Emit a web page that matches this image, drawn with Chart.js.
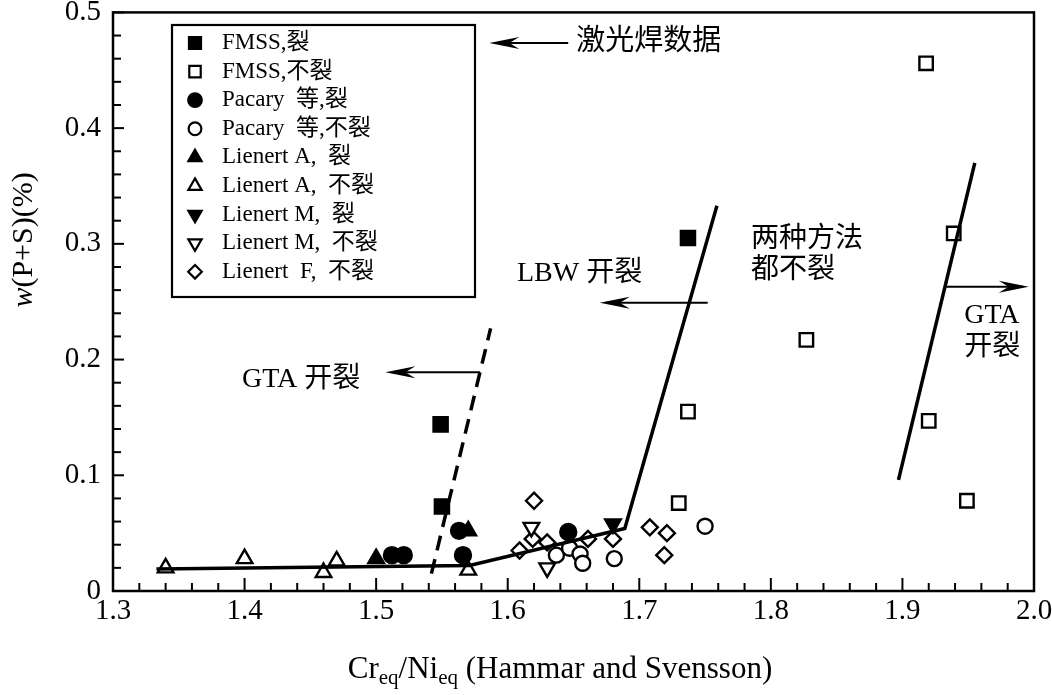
<!DOCTYPE html>
<html lang="zh">
<head>
<meta charset="UTF-8">
<title>w(P+S) vs Creq/Nieq</title>
<script src="https://cdn.jsdelivr.net/npm/chart.js@4.4.1/dist/chart.umd.min.js"></script>
<style>
  body { margin: 0; background: #fff; }
  #wrap { width: 1052px; height: 695px; }
</style>
</head>
<body>
<div id="wrap"><canvas id="myChart" width="1052" height="695"></canvas></div>
<script>
// data
const xTicks = [1.3, 1.4, 1.5, 1.6, 1.7, 1.8, 1.9, 2.0];
const yTicks = [0, 0.1, 0.2, 0.3, 0.4, 0.5];

const fmssCrack = [{x:1.549,y:0.144},{x:1.550,y:0.073},{x:1.737,y:0.305}];
const fmssNoCrack = [{x:1.918,y:0.456},{x:1.939,y:0.309},{x:1.827,y:0.217},{x:1.737,y:0.155},
  {x:1.920,y:0.147},{x:1.730,y:0.076},{x:1.949,y:0.078}];
const pacaryCrack = [{x:1.512,y:0.031},{x:1.521,y:0.031},{x:1.563,y:0.052},{x:1.566,y:0.031},{x:1.646,y:0.051}];
const pacaryNoCrack = [{x:1.637,y:0.031},{x:1.647,y:0.037},{x:1.655,y:0.032},{x:1.657,y:0.024},
  {x:1.681,y:0.028},{x:1.750,y:0.056}];
const lienertACrack = [{x:1.500,y:0.028},{x:1.570,y:0.052}];
const lienertANoCrack = [{x:1.340,y:0.020},{x:1.400,y:0.028},{x:1.460,y:0.016},{x:1.470,y:0.026},{x:1.570,y:0.018}];
const lienertMCrack = [{x:1.680,y:0.058}];
const lienertMNoCrack = [{x:1.618,y:0.055},{x:1.630,y:0.020}];
const lienertFNoCrack = [{x:1.620,y:0.078},{x:1.609,y:0.035},{x:1.619,y:0.045},{x:1.630,y:0.042},
  {x:1.661,y:0.045},{x:1.680,y:0.045},{x:1.708,y:0.055},{x:1.721,y:0.050},{x:1.719,y:0.031}];

// boundary lines
const lbwLine = [{x:1.333,y:0.019},{x:1.571,y:0.022},{x:1.689,y:0.054},{x:1.759,y:0.333}];
const gtaDashLine = [{x:1.542,y:0.015},{x:1.587,y:0.227}];
const gtaRightLine = [{x:1.897,y:0.096},{x:1.955,y:0.370}];

const serif = '"Liberation Serif", "Times New Roman", serif';
const cjk = '"Liberation Serif", "Noto Sans CJK SC", serif';

function pts(label, data, style, filled, radius, rot) {
  return {
    label: label, data: data,
    pointStyle: style, pointRadius: radius, pointHoverRadius: radius,
    pointRotation: rot || 0,
    borderColor: '#000', backgroundColor: filled ? '#000' : '#fff',
    borderWidth: 2.4, showLine: false
  };
}
function line(data, dash) {
  return {
    label: '', data: data, showLine: true, pointRadius: 0,
    borderColor: '#000', borderWidth: 3.5, borderDash: dash || [],
    fill: false, isLine: true
  };
}

const datasets = [
  line(lbwLine), line(gtaDashLine, [15, 9]), line(gtaRightLine),
  pts('FMSS,裂', fmssCrack, 'rect', true, 10),
  pts('FMSS,不裂', fmssNoCrack, 'rect', false, 9.5),
  pts('Pacary  等,裂', pacaryCrack, 'circle', true, 8),
  pts('Pacary  等,不裂', pacaryNoCrack, 'circle', false, 7.5),
  pts('Lienert A,  裂', lienertACrack, 'triangle', true, 9),
  pts('Lienert A,  不裂', lienertANoCrack, 'triangle', false, 9),
  pts('Lienert M,  裂', lienertMCrack, 'triangle', true, 9, 180),
  pts('Lienert M,  不裂', lienertMNoCrack, 'triangle', false, 9, 180),
  pts('Lienert  F,  不裂', lienertFNoCrack, 'rectRot', false, 8)
];

// text notes, in data coordinates
const notes = [
  {text:'激光焊数据', x:1.652, y:0.474, size:29},
  {text:'GTA 开裂', x:1.398, y:0.183, size:28},
  {text:'LBW 开裂', x:1.607, y:0.274, size:28},
  {text:'两种方法', x:1.785, y:0.304, size:28},
  {text:'都不裂', x:1.785, y:0.277, size:28},
  {text:'GTA', x:1.947, y:0.238, size:28},
  {text:'开裂', x:1.947, y:0.210, size:28}
];
const arrows = [
  {x1:1.646, x2:1.586, y:0.4735},
  {x1:1.579, x2:1.507, y:0.189},
  {x1:1.752, x2:1.670, y:0.249},
  {x1:1.933, x2:1.996, y:0.263}
];

function arrow(ctx, x1, x2, y) {
  const dir = x2 > x1 ? 1 : -1;
  ctx.beginPath();
  ctx.moveTo(x1, y); ctx.lineTo(x2 - dir * 6, y);
  ctx.lineWidth = 2; ctx.stroke();
  ctx.beginPath();
  ctx.moveTo(x2, y);
  ctx.lineTo(x2 - dir * 30, y - 6);
  ctx.lineTo(x2 - dir * 20, y);
  ctx.lineTo(x2 - dir * 30, y + 6);
  ctx.closePath(); ctx.fill();
}

const decor = {
  id: 'decor',
  afterDraw(chart) {
    const ctx = chart.ctx, a = chart.chartArea;
    const xs = chart.scales.x, ys = chart.scales.y;
    ctx.save();
    ctx.strokeStyle = '#000'; ctx.fillStyle = '#000';
    // frame
    ctx.lineWidth = 2.5;
    ctx.strokeRect(a.left, a.top, a.right - a.left, a.bottom - a.top);
    // inward ticks, minor every 0.02
    ctx.lineWidth = 2;
    for (let i = 0; i <= 35; i++) {
      const v = 1.3 + i * 0.02, px = xs.getPixelForValue(v);
      const len = i % 5 === 0 ? 13 : 8;
      ctx.beginPath(); ctx.moveTo(px, a.bottom); ctx.lineTo(px, a.bottom - len); ctx.stroke();
    }
    for (let i = 0; i <= 25; i++) {
      const py = ys.getPixelForValue(i * 0.02);
      const len = i % 5 === 0 ? 11 : 8;
      ctx.beginPath(); ctx.moveTo(a.left, py); ctx.lineTo(a.left + len, py); ctx.stroke();
    }
    // notes and arrows
    ctx.textBaseline = 'middle'; ctx.textAlign = 'left';
    notes.forEach(n => {
      ctx.font = n.size + 'px ' + cjk;
      ctx.fillText(n.text, xs.getPixelForValue(n.x), ys.getPixelForValue(n.y));
    });
    arrows.forEach(r => arrow(ctx, xs.getPixelForValue(r.x1), xs.getPixelForValue(r.x2), ys.getPixelForValue(r.y)));
    // legend box
    const lx = 172, ly = 25, lw = 303, lh = 272;
    ctx.fillStyle = '#fff'; ctx.fillRect(lx, ly, lw, lh);
    ctx.fillStyle = '#000'; ctx.lineWidth = 2.2; ctx.strokeRect(lx, ly, lw, lh);
    ctx.font = '23px ' + cjk;
    chart.data.datasets.filter(d => !d.isLine).forEach((d, i) => {
      const yy = 43 + i * 28.6;
      ctx.fillStyle = d.backgroundColor; ctx.strokeStyle = '#000'; ctx.lineWidth = 2.2;
      Chart.helpers.drawPoint(ctx, {
        pointStyle: d.pointStyle, radius: d.pointRadius * 0.85, rotation: d.pointRotation,
        borderWidth: 2.2
      }, 195, yy);
      ctx.fillStyle = '#000';
      ctx.fillText(d.label, 222, yy);
    });
    // x title with subscripts
    const big = '31px ' + serif, sub = '21px ' + serif;
    const parts = [['Cr', 0], ['eq', 1], ['/Ni', 0], ['eq', 1], [' (Hammar and Svensson)', 0]];
    let total = 0;
    parts.forEach(p => { ctx.font = p[1] ? sub : big; total += ctx.measureText(p[0]).width; });
    let cx = 560 - total / 2;
    ctx.textBaseline = 'alphabetic';
    parts.forEach(p => {
      ctx.font = p[1] ? sub : big;
      ctx.fillText(p[0], cx, p[1] ? 684 : 678);
      cx += ctx.measureText(p[0]).width;
    });
    // y title
    ctx.translate(32, 240); ctx.rotate(-Math.PI / 2);
    ctx.font = 'italic 30px ' + serif;
    const w1 = ctx.measureText('w').width;
    ctx.font = '30px ' + serif;
    const w2 = ctx.measureText('(P+S)(%)').width;
    let sx = -(w1 + w2) / 2;
    ctx.font = 'italic 30px ' + serif; ctx.fillText('w', sx, 0);
    ctx.font = '30px ' + serif; ctx.fillText('(P+S)(%)', sx + w1, 0);
    ctx.restore();
  }
};

new Chart(document.getElementById('myChart'), {
  type: 'scatter',
  data: { datasets: datasets },
  options: {
    responsive: false, animation: false, devicePixelRatio: 1,
    layout: { padding: { top: 6, right: 18, left: 0, bottom: 0 } },
    plugins: { legend: { display: false }, tooltip: { enabled: false } },
    scales: {
      x: {
        type: 'linear', min: 1.3, max: 2.0,
        afterBuildTicks: s => { s.ticks = xTicks.map(v => ({ value: v })); },
        afterFit: s => { s.height = 104; s.paddingLeft = 0; s.paddingRight = 0; },
        grid: { display: false, drawTicks: false }, border: { display: false },
        ticks: { color: '#000', padding: 3, font: { family: serif, size: 29 },
          callback: v => v.toFixed(1) }
      },
      y: {
        type: 'linear', min: 0, max: 0.5,
        afterBuildTicks: s => { s.ticks = yTicks.map(v => ({ value: v })); },
        afterFit: s => { s.width = 113; s.paddingTop = 0; s.paddingBottom = 0; },
        grid: { display: false, drawTicks: false }, border: { display: false },
        ticks: { color: '#000', padding: 12, font: { family: serif, size: 29 },
          callback: v => v === 0 ? '0' : v.toFixed(1) }
      }
    }
  },
  plugins: [decor]
});
</script>
</body>
</html>
